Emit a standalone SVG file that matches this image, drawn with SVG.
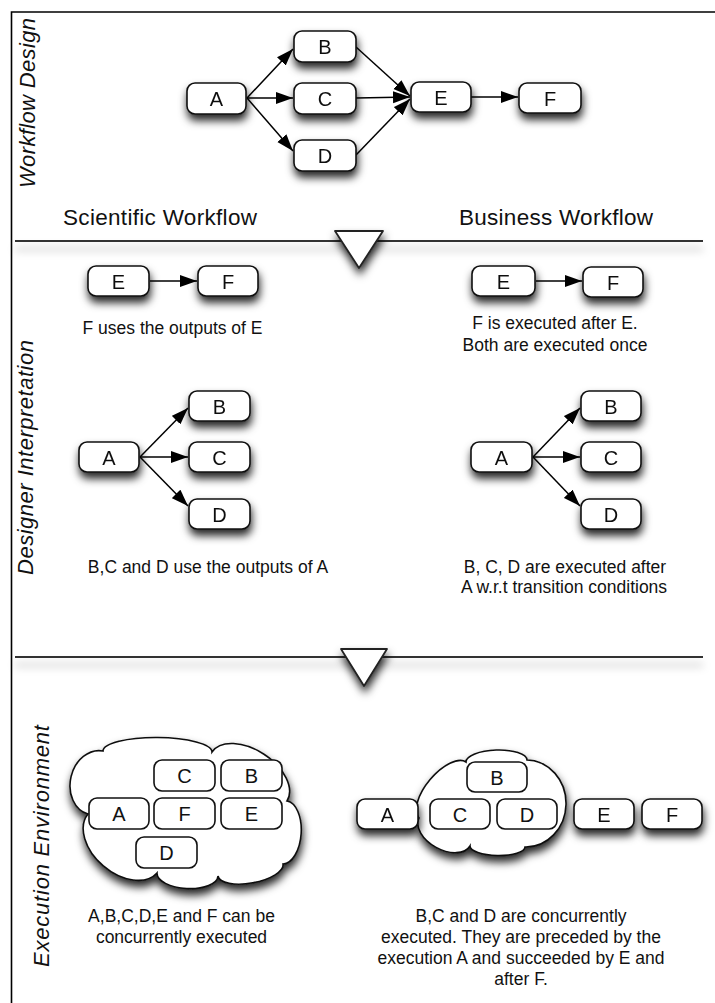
<svg xmlns="http://www.w3.org/2000/svg" width="715" height="1003" viewBox="0 0 715 1003">
  <style>
    .box { fill: #fff; stroke: #111; stroke-width: 1.6; }
    .cloud { fill: #fff; stroke: #111; stroke-width: 1.6; }
    .lbl { font-family: "Liberation Sans", Arial, Helvetica, sans-serif; font-size: 20px; fill: #111; text-anchor: middle; }
    .note { font-family: "Liberation Sans", Arial, Helvetica, sans-serif; font-size: 17.5px; fill: #111; text-anchor: middle; }
    .head { font-family: "Liberation Sans", Arial, Helvetica, sans-serif; font-size: 22.5px; fill: #111; }
    .side { font-family: "Liberation Sans", Arial, Helvetica, sans-serif; font-size: 22px; font-style: italic; fill: #111; text-anchor: middle; }
    .edge { stroke: #000; stroke-width: 1.5; fill: none; marker-end: url(#arrow); }
    .rule { stroke: #333; stroke-width: 2.2; }
    .tri { fill: #fff; stroke: #222; stroke-width: 1.8; stroke-linejoin: round; }
  </style>
  <defs>
    <filter id="shadow" filterUnits="userSpaceOnUse" x="0" y="0" width="715" height="1003">
      <feDropShadow dx="1" dy="6" stdDeviation="4" flood-color="#000" flood-opacity="0.85"/>
    </filter>
    <filter id="ruleShadow" filterUnits="userSpaceOnUse" x="0" y="0" width="715" height="1003">
      <feDropShadow dx="0" dy="8" stdDeviation="4.5" flood-color="#000" flood-opacity="0.35"/>
    </filter>
    <marker id="arrow" viewBox="0 0 17 13" refX="17" refY="6.5" markerWidth="17" markerHeight="13" markerUnits="userSpaceOnUse" orient="auto">
      <path d="M0,0.5 L17,6.5 L0,12.5 z" fill="#000"/>
    </marker>
  </defs>

  <rect width="715" height="1003" fill="#fff"/>

  <!-- frame: top and left edges only -->
  <g id="frame" stroke="#000" stroke-width="1.6" fill="none">
    <path d="M715,12 H11.5 V1003"/>
  </g>

  <!-- section titles, rotated -->
  <g id="section-titles">
    <text class="side" transform="translate(35,103) rotate(-90)" textLength="170" lengthAdjust="spacing">Workflow Design</text>
    <text class="side" transform="translate(33,457.5) rotate(-90)" textLength="235" lengthAdjust="spacing">Designer Interpretation</text>
    <text class="side" transform="translate(49,846) rotate(-90)" textLength="242" lengthAdjust="spacing">Execution Environment</text>
  </g>

  <!-- column headings -->
  <g id="headings">
    <text class="head" x="63" y="225" textLength="194" lengthAdjust="spacing">Scientific Workflow</text>
    <text class="head" x="459" y="225" textLength="194" lengthAdjust="spacing">Business Workflow</text>
  </g>

  <!-- dividers with downward triangles -->
  <g id="divider-1">
    <line class="rule" x1="15" y1="241" x2="703" y2="241" filter="url(#ruleShadow)"/>
    <polygon class="tri" points="335,231 383,231 359,268" filter="url(#shadow)"/>
  </g>
  <g id="divider-2">
    <line class="rule" x1="15" y1="657" x2="703" y2="657" filter="url(#ruleShadow)"/>
    <polygon class="tri" points="341,649 387,649 364,686" filter="url(#shadow)"/>
  </g>

  <!-- connectors -->
  <g id="connectors">
    <!-- workflow design -->
    <line class="edge" x1="247" y1="98" x2="293" y2="49"/>
    <line class="edge" x1="247" y1="98" x2="293" y2="98"/>
    <line class="edge" x1="247" y1="98" x2="293" y2="151"/>
    <line class="edge" x1="356" y1="47" x2="410" y2="96"/>
    <line class="edge" x1="356" y1="98" x2="410" y2="97"/>
    <line class="edge" x1="356" y1="155" x2="410" y2="99"/>
    <line class="edge" x1="471" y1="97" x2="518" y2="97"/>
    <!-- scientific interpretation -->
    <line class="edge" x1="150" y1="281" x2="197" y2="281"/>
    <line class="edge" x1="140" y1="457" x2="188" y2="408"/>
    <line class="edge" x1="140" y1="457" x2="188" y2="457"/>
    <line class="edge" x1="140" y1="457" x2="188" y2="506"/>
    <!-- business interpretation -->
    <line class="edge" x1="536" y1="281" x2="582" y2="281"/>
    <line class="edge" x1="533" y1="457" x2="580" y2="408"/>
    <line class="edge" x1="533" y1="457" x2="580" y2="457"/>
    <line class="edge" x1="533" y1="457" x2="580" y2="506"/>
  </g>

  <!-- workflow design nodes -->
  <g id="wd-A" filter="url(#shadow)"><rect class="box" x="187" y="83" width="59" height="31" rx="8"/><text class="lbl" x="216.5" y="106">A</text></g>
  <g id="wd-B" filter="url(#shadow)"><rect class="box" x="294" y="31" width="62" height="31" rx="8"/><text class="lbl" x="325" y="54">B</text></g>
  <g id="wd-C" filter="url(#shadow)"><rect class="box" x="294" y="83" width="62" height="31" rx="8"/><text class="lbl" x="325" y="106">C</text></g>
  <g id="wd-D" filter="url(#shadow)"><rect class="box" x="294" y="140" width="62" height="31" rx="8"/><text class="lbl" x="325" y="163">D</text></g>
  <g id="wd-E" filter="url(#shadow)"><rect class="box" x="411" y="82" width="60" height="30" rx="8"/><text class="lbl" x="441" y="104.5">E</text></g>
  <g id="wd-F" filter="url(#shadow)"><rect class="box" x="519" y="83" width="62" height="30" rx="8"/><text class="lbl" x="550" y="105.5">F</text></g>

  <!-- scientific interpretation nodes -->
  <g id="sci-E" filter="url(#shadow)"><rect class="box" x="88" y="266" width="61" height="30" rx="8"/><text class="lbl" x="118.5" y="288.5">E</text></g>
  <g id="sci-F" filter="url(#shadow)"><rect class="box" x="198" y="266" width="60" height="30" rx="8"/><text class="lbl" x="228" y="288.5">F</text></g>
  <g id="sci-A" filter="url(#shadow)"><rect class="box" x="79" y="442" width="60" height="30" rx="8"/><text class="lbl" x="109" y="464.5">A</text></g>
  <g id="sci-B" filter="url(#shadow)"><rect class="box" x="189" y="391" width="61" height="30" rx="8"/><text class="lbl" x="219.5" y="413.5">B</text></g>
  <g id="sci-C" filter="url(#shadow)"><rect class="box" x="189" y="442" width="61" height="30" rx="8"/><text class="lbl" x="219.5" y="464.5">C</text></g>
  <g id="sci-D" filter="url(#shadow)"><rect class="box" x="189" y="499" width="61" height="30" rx="8"/><text class="lbl" x="219.5" y="521.5">D</text></g>

  <!-- business interpretation nodes -->
  <g id="bus-E" filter="url(#shadow)"><rect class="box" x="472" y="266" width="63" height="30" rx="8"/><text class="lbl" x="503.5" y="288.5">E</text></g>
  <g id="bus-F" filter="url(#shadow)"><rect class="box" x="583" y="267" width="60" height="30" rx="8"/><text class="lbl" x="613" y="289.5">F</text></g>
  <g id="bus-A" filter="url(#shadow)"><rect class="box" x="471" y="442" width="61" height="30" rx="8"/><text class="lbl" x="501.5" y="464.5">A</text></g>
  <g id="bus-B" filter="url(#shadow)"><rect class="box" x="581" y="391" width="60" height="30" rx="8"/><text class="lbl" x="611" y="413.5">B</text></g>
  <g id="bus-C" filter="url(#shadow)"><rect class="box" x="581" y="442" width="60" height="30" rx="8"/><text class="lbl" x="611" y="464.5">C</text></g>
  <g id="bus-D" filter="url(#shadow)"><rect class="box" x="581" y="499" width="60" height="30" rx="8"/><text class="lbl" x="611" y="521.5">D</text></g>

  <!-- interpretation notes -->
  <g id="notes-interpretation">
    <text class="note" x="172.5" y="334">F uses the outputs of E</text>
    <text class="note" x="555" y="329">F is executed after E.</text>
    <text class="note" x="555" y="351">Both are executed once</text>
    <text class="note" x="208" y="573">B,C and D use the outputs of A</text>
    <text class="note" x="565" y="573">B, C, D are executed after</text>
    <text class="note" x="564" y="593">A w.r.t transition conditions</text>
  </g>

  <!-- scientific execution: everything in one cloud -->
  <g id="sci-cloud">
    <path class="cloud" filter="url(#shadow)" d="M88,814 A32.4,26 -76.6 0 1 103,751 A54.5,14 0.5 0 1 212,752 A44.8,27 33.2 0 1 287,801 A31.6,17 93.6 0 1 283,864 A33,13 169.5 0 1 218,876 A30.5,14 182.8 0 1 157,873 A45.4,30 -139.5 0 1 88,814 Z"/>
  </g>
  <g id="exs-C"><rect class="box" x="154" y="760" width="61" height="31" rx="8"/><text class="lbl" x="184.5" y="783">C</text></g>
  <g id="exs-B"><rect class="box" x="221" y="760" width="61" height="31" rx="8"/><text class="lbl" x="251.5" y="783">B</text></g>
  <g id="exs-A"><rect class="box" x="89" y="798" width="60" height="31" rx="8"/><text class="lbl" x="119" y="821">A</text></g>
  <g id="exs-F"><rect class="box" x="154" y="798" width="61" height="31" rx="8"/><text class="lbl" x="184.5" y="821">F</text></g>
  <g id="exs-E"><rect class="box" x="221" y="798" width="61" height="31" rx="8"/><text class="lbl" x="251.5" y="821">E</text></g>
  <g id="exs-D"><rect class="box" x="136" y="837" width="61" height="31" rx="8"/><text class="lbl" x="166.5" y="860">D</text></g>

  <!-- business execution: B, C, D share a cloud between A and E, F -->
  <g id="bus-cloud">
    <path class="cloud" filter="url(#shadow)" d="M419,818 A36.6,17 -50 0 1 466,762 A30.5,11 -1.9 0 1 527,760 A43.5,40 91.3 0 1 525,847 A27.5,9 181 0 1 470,846 A29.1,18 -151.2 0 1 419,818 Z"/>
  </g>
  <g id="exb-A" filter="url(#shadow)"><rect class="box" x="357" y="799" width="61" height="30" rx="8"/><text class="lbl" x="387.5" y="821.5">A</text></g>
  <g id="exb-B"><rect class="box" x="467" y="762" width="60" height="30" rx="8"/><text class="lbl" x="497" y="784.5">B</text></g>
  <g id="exb-C"><rect class="box" x="430" y="799" width="60" height="30" rx="8"/><text class="lbl" x="460" y="821.5">C</text></g>
  <g id="exb-D"><rect class="box" x="497" y="799" width="60" height="30" rx="8"/><text class="lbl" x="527" y="821.5">D</text></g>
  <g id="exb-E" filter="url(#shadow)"><rect class="box" x="574" y="799" width="60" height="30" rx="8"/><text class="lbl" x="604" y="821.5">E</text></g>
  <g id="exb-F" filter="url(#shadow)"><rect class="box" x="642" y="799" width="60" height="30" rx="8"/><text class="lbl" x="672" y="821.5">F</text></g>

  <!-- execution notes -->
  <g id="notes-execution">
    <text class="note" x="181.5" y="922">A,B,C,D,E and F can be</text>
    <text class="note" x="181.5" y="943">concurrently executed</text>
    <text class="note" x="521" y="922">B,C and D are concurrently</text>
    <text class="note" x="521" y="943">executed. They are preceded by the</text>
    <text class="note" x="521" y="964">execution A and succeeded by E and</text>
    <text class="note" x="521" y="985">after F.</text>
  </g>
</svg>
